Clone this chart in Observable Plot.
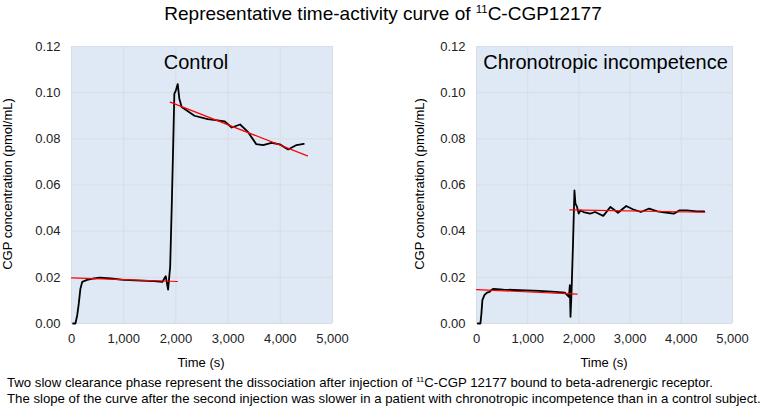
<!DOCTYPE html>
<html>
<head>
<meta charset="utf-8">
<script src="https://cdn.jsdelivr.net/npm/d3@7"></script>
<script src="https://cdn.jsdelivr.net/npm/@observablehq/plot@0.6"></script>
<style>
  body { margin: 0; background: #fff; font-family: "Liberation Sans", Arial, sans-serif; }
  #root { position: relative; width: 766px; height: 407px; overflow: hidden; }
  .abs { position: absolute; white-space: nowrap; color: #000; }
  #title { left: 0; width: 766px; top: 3px; text-align: center; font-size: 19px; }
  #caption { left: 7px; top: 375px; font-size: 13.2px; line-height: 15.5px; }
  .ytitle { font-size: 13px; transform: translate(-50%, -50%) rotate(-90deg); }
  .xtitle { font-size: 13px; transform: translate(-50%, -50%); }
  sup { font-size: 0.6em; vertical-align: 0.6em; line-height: 0; }
</style>
</head>
<body>
<div id="root">
  <div id="title" class="abs">Representative time-activity curve of <sup>11</sup>C-CGP12177</div>
  <div id="left" class="abs" style="left:0;top:30px"></div>
  <div id="right" class="abs" style="left:383px;top:30px"></div>
  <div class="abs ytitle" style="left:7px;top:184px">CGP concentration (pmol/mL)</div>
  <div class="abs ytitle" style="left:419px;top:184px">CGP concentration (pmol/mL)</div>
  <div class="abs xtitle" style="left:201px;top:362px">Time (s)</div>
  <div class="abs xtitle" style="left:604px;top:362px">Time (s)</div>
  <div id="caption" class="abs">Two slow clearance phase represent the dissociation after injection of <sup>11</sup>C-CGP 12177 bound to beta-adrenergic receptor.<br>The slope of the curve after the second injection was slower in a patient with chronotropic incompetence than in a control subject.</div>
</div>
<script>
// Control subject time-activity curve
const controlTime  = [30, 75, 110, 140, 170, 205, 300, 430, 545, 750, 1000, 1325, 1580, 1740, 1805, 1850, 1890, 1920, 1950, 1970, 2000, 2035, 2065, 2110, 2160, 2355, 2610, 2800, 2930, 3070, 3230, 3380, 3540, 3670, 3830, 3990, 4150, 4310, 4450];
const controlValue = [0, 0, 0.0036, 0.0087, 0.015, 0.018, 0.0189, 0.0195, 0.0199, 0.0195, 0.0189, 0.0186, 0.0184, 0.018, 0.0205, 0.0147, 0.0245, 0.0505, 0.079, 0.0995, 0.101, 0.1037, 0.0975, 0.0938, 0.093, 0.090, 0.0885, 0.088, 0.0876, 0.0849, 0.0862, 0.083, 0.0777, 0.0773, 0.0783, 0.0776, 0.0754, 0.0773, 0.0778];
// Control fitted clearance lines (two phases)
const controlFit1Time = [0, 2030];
const controlFit1Value = [0.0198, 0.0182];
const controlFit2Time = [1890, 4520];
const controlFit2Value = [0.0959, 0.0726];

// Chronotropic incompetence time-activity curve
const chronoTime  = [25, 77, 96, 115, 154, 205, 256, 300, 333, 525, 845, 1230, 1550, 1727, 1772, 1805, 1823, 1836, 1855, 1887, 1913, 1932, 1964, 1996, 2028, 2092, 2220, 2316, 2476, 2617, 2764, 2924, 3052, 3212, 3372, 3532, 3660, 3852, 3967, 4107, 4300, 4447];
const chronoValue = [0, 0, 0.0043, 0.0101, 0.0123, 0.0134, 0.0137, 0.0147, 0.015, 0.0147, 0.0144, 0.0141, 0.0137, 0.0134, 0.0123, 0.0115, 0.0166, 0.0029, 0.013, 0.036, 0.0577, 0.052, 0.0505, 0.0476, 0.049, 0.0483, 0.0476, 0.0483, 0.0466, 0.0505, 0.048, 0.0509, 0.0495, 0.0483, 0.0498, 0.0486, 0.0482, 0.0476, 0.049, 0.049, 0.0486, 0.0486];
const chronoFit1Time = [0, 1964];
const chronoFit1Value = [0.0147, 0.0127];
const chronoFit2Time = [1823, 4460];
const chronoFit2Value = [0.0492, 0.0482];

const xTicks = [0, 1000, 2000, 3000, 4000, 5000];
const yTicks = [0, 0.02, 0.04, 0.06, 0.08, 0.10, 0.12];

const toRows = (t, v) => t.map((d, i) => ({t: d, v: v[i]}));
const fmtX = d3.format(",d");
const fmtY = d3.format(".2f");

function panel({label, time, value, fits, marginLeft, marginRight, labelDx}) {
  const fitRows = fits.flatMap(([t, v], k) => toRows(t, v).map(r => ({...r, seg: k})));
  return Plot.plot({
    width: 383,
    height: 345,
    marginTop: 16,
    marginBottom: 52,
    marginLeft,
    marginRight,
    style: {fontFamily: "'Liberation Sans', Arial, sans-serif", fontSize: "13px", color: "#222", background: "transparent"},
    x: {domain: [0, 5000], ticks: xTicks, tickFormat: fmtX, label: null},
    y: {domain: [0, 0.12], ticks: yTicks, tickFormat: fmtY, label: null},
    marks: [
      Plot.frame({fill: "#dee9f5", stroke: null}),
      Plot.gridX(xTicks, {stroke: "#d8dde3", strokeOpacity: 1, strokeWidth: 1}),
      Plot.gridY(yTicks, {stroke: "#d8dde3", strokeOpacity: 1, strokeWidth: 1}),
      Plot.axisX({ticks: xTicks, tickFormat: fmtX, tickSize: 0, tickPadding: 10, fontSize: 13, label: null}),
      Plot.axisY({ticks: yTicks, tickFormat: fmtY, tickSize: 0, tickPadding: 11, fontSize: 13, label: null}),
      Plot.line(toRows(time, value), {x: "t", y: "v", stroke: "#000", strokeWidth: 1.8, curve: "linear"}),
      Plot.line(fitRows, {x: "t", y: "v", z: "seg", stroke: "#ff0000", strokeWidth: 1.2}),
      Plot.text([label], {frameAnchor: "top", dy: 8, dx: labelDx, fontSize: 20, fill: "#000"})
    ]
  });
}

document.getElementById("left").appendChild(panel({
  label: "Control", time: controlTime, value: controlValue,
  fits: [[controlFit1Time, controlFit1Value], [controlFit2Time, controlFit2Value]],
  marginLeft: 71, marginRight: 51, labelDx: -6
}));
document.getElementById("right").appendChild(panel({
  label: "Chronotropic incompetence", time: chronoTime, value: chronoValue,
  fits: [[chronoFit1Time, chronoFit1Value], [chronoFit2Time, chronoFit2Value]],
  marginLeft: 93, marginRight: 34, labelDx: 1
}));
</script>
</body>
</html>
